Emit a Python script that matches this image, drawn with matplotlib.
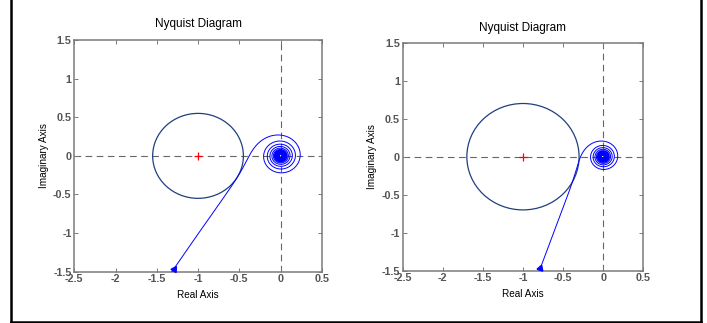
import numpy as np
import matplotlib
matplotlib.use("Agg")
import matplotlib.pyplot as plt
from matplotlib.patches import Circle
from matplotlib.lines import Line2D

plt.rcParams["font.family"] = ["Liberation Sans", "DejaVu Sans"]

# loop parameters estimated from the two curves: K, tau, Ki, lambda, Kd, mu
LOOP_LEFT = [0.1474, 0.0521, 3.5890, 0.3588, 2.2365, 0.8170]
LOOP_RIGHT = [0.0933, 0.0501, 3.9941, 0.2250, 2.4631, 0.8534]
W_END = [129, 113]            # last frequency drawn (rad/s)
MS_RADIUS = [0.55, 0.70]      # circles round the critical point
CRITICAL = (-1.0, 0.0)
XTICKS = [-2.5, -2, -1.5, -1, -0.5, 0, 0.5]
YTICKS = [-1.5, -1, -0.5, 0, 0.5, 1, 1.5]
TITLE = "Nyquist Diagram"
XLABEL, YLABEL = "Real Axis", "Imaginary Axis"


def loop(p, w):
    K, tau, Ki, lam, Kd, mu = p
    s = 1j * w
    return K * np.exp(-s) / (s * (tau * s + 1)) * (1 + Ki * s**(-lam) + Kd * s**mu)


fig = plt.figure(figsize=(7.07, 3.23), dpi=100)
axes = [fig.add_axes([0.1051, 0.1588, 0.350, 0.7173]),
        fig.add_axes([0.5696, 0.1619, 0.3402, 0.7059])]
pads = [9.5, 8.5]

for ax, p, wend, r, tpad in zip(axes, [LOOP_LEFT, LOOP_RIGHT], W_END, MS_RADIUS, pads):
    ax.axhline(0, color="#666666", lw=0.8, ls=(0, (6, 4)), zorder=1)
    ax.axvline(0, color="#666666", lw=0.8, ls=(0, (6, 4)), zorder=1)
    ax.add_patch(Circle(CRITICAL, r, fill=False, ec="#203f80", lw=0.9, zorder=2))
    w = np.concatenate([np.logspace(-3, 0, 3000), np.linspace(1.0, wend, int(wend * 25))[1:]])
    L = loop(p, w)
    ax.plot(L.real, L.imag, color="#0000ff", lw=0.7, zorder=3)
    ax.plot(*CRITICAL, "+", color="red", ms=6, mew=0.9, zorder=4)
    # arrow head where the branch comes in at the bottom edge
    i = int(np.argmax(L.imag > -1.465))
    ang = np.degrees(np.arctan2(L.imag[i + 5] - L.imag[i], L.real[i + 5] - L.real[i]))
    ax.plot(L.real[i], L.imag[i], marker=(3, 0, ang - 90), ms=5, color="#0000ff",
            mec="#0000ff", zorder=4, clip_on=False)

    ax.set_xlim(-2.5, 0.5)
    ax.set_ylim(-1.5, 1.5)
    ax.set_xticks(XTICKS)
    ax.set_yticks(YTICKS)
    ax.set_xticklabels([f"{t:g}" for t in XTICKS], fontweight="bold")
    ax.set_yticklabels([f"{t:g}" for t in YTICKS], fontweight="bold")
    ax.tick_params(direction="in", top=True, right=True, length=3, width=0.7,
                   color="#7a7a7a", labelsize=7.8, labelcolor="#555555", pad=2)
    for sp in ax.spines.values():
        sp.set_color("#7a7a7a")
        sp.set_linewidth(1.1)
    ax.set_title(TITLE, fontsize=8.5, pad=tpad)
    ax.set_xlabel(XLABEL, fontsize=7.2, labelpad=4)
    ax.set_ylabel(YLABEL, fontsize=7.2, labelpad=3)

# frame round the whole picture
bx0, bx1, by = 10.5 / 707, 700.5 / 707, 1.5 / 323
for xs, ys in [([bx0, bx0], [by, 1.0]), ([bx1, bx1], [by, 1.0]), ([bx0, bx1], [by, by])]:
    fig.add_artist(Line2D(xs, ys, color="black", lw=1.8, solid_capstyle="projecting"))

fig.savefig("out.png", dpi=100)
